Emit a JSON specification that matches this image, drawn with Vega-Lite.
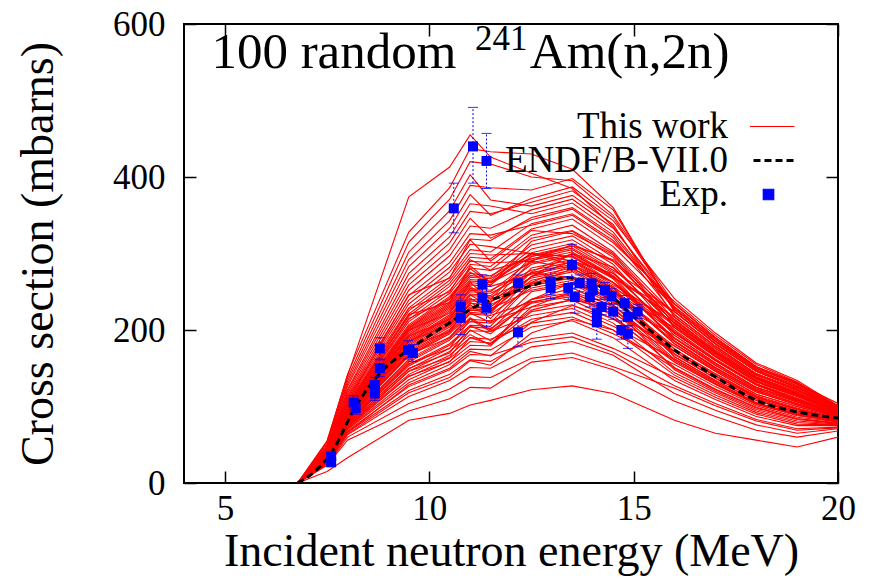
{
"$schema":"https://vega.github.io/schema/vega-lite/v6.json",
"width":654,"height":459,
"autosize":{"type":"none"},
"padding":{"left":184,"top":24,"right":32,"bottom":96},
"background":"white",
"config":{
"view":{"stroke":"black","strokeWidth":2},
"font":"Liberation Serif, serif",
"axis":{"grid":false,"domain":false,"tickColor":"black","tickWidth":1.5,"tickSize":-12,"labelColor":"black","labelFont":"Liberation Serif, serif","labelFontSize":35,"labelFlush":false,"titleFont":"Liberation Serif, serif","titleFontSize":46,"titleFontWeight":"normal","titleColor":"black"},
"legend":{"rowPadding":-8}
},
"datasets":{
"runs":[
{"c":1,"x":6.78,"y":0},{"c":1,"x":7.5,"y":15},{"c":1,"x":8,"y":33},{"c":1,"x":9.5,"y":82},{"c":1,"x":10.5,"y":91},{"c":1,"x":11,"y":102},{"c":1,"x":11.5,"y":108},{"c":1,"x":12.5,"y":122},{"c":1,"x":13.5,"y":127},{"c":1,"x":14.5,"y":117},{"c":1,"x":16,"y":82},{"c":1,"x":17,"y":65},{"c":1,"x":18,"y":56},{"c":1,"x":19,"y":47},{"c":1,"x":20,"y":60},
{"c":2,"x":6.78,"y":0},{"c":2,"x":7.5,"y":23},{"c":2,"x":8,"y":56},{"c":2,"x":9.5,"y":94},{"c":2,"x":10.5,"y":110},{"c":2,"x":11,"y":125},{"c":2,"x":11.5,"y":124},{"c":2,"x":12.5,"y":158},{"c":2,"x":13.5,"y":164},{"c":2,"x":14.5,"y":148},{"c":2,"x":16,"y":107},{"c":2,"x":17,"y":87},{"c":2,"x":18,"y":69},{"c":2,"x":19,"y":60},{"c":2,"x":20,"y":68},
{"c":3,"x":6.78,"y":0},{"c":3,"x":7.5,"y":24},{"c":3,"x":8,"y":60},{"c":3,"x":9.5,"y":104},{"c":3,"x":10.5,"y":123},{"c":3,"x":11,"y":139},{"c":3,"x":11.5,"y":138},{"c":3,"x":12.5,"y":163},{"c":3,"x":13.5,"y":170},{"c":3,"x":14.5,"y":152},{"c":3,"x":16,"y":124},{"c":3,"x":17,"y":101},{"c":3,"x":18,"y":81},{"c":3,"x":19,"y":69},{"c":3,"x":20,"y":72},
{"c":4,"x":6.78,"y":0},{"c":4,"x":7.5,"y":25},{"c":4,"x":8,"y":63},{"c":4,"x":9.5,"y":113},{"c":4,"x":10.5,"y":134},{"c":4,"x":11,"y":151},{"c":4,"x":11.5,"y":150},{"c":4,"x":12.5,"y":178},{"c":4,"x":13.5,"y":185},{"c":4,"x":14.5,"y":167},{"c":4,"x":16,"y":117},{"c":4,"x":17,"y":95},{"c":4,"x":18,"y":76},{"c":4,"x":19,"y":65},{"c":4,"x":20,"y":71},
{"c":5,"x":6.78,"y":0},{"c":5,"x":7.5,"y":26},{"c":5,"x":8,"y":66},{"c":5,"x":9.5,"y":121},{"c":5,"x":10.5,"y":142},{"c":5,"x":11,"y":161},{"c":5,"x":11.5,"y":159},{"c":5,"x":12.5,"y":189},{"c":5,"x":13.5,"y":196},{"c":5,"x":14.5,"y":176},{"c":5,"x":16,"y":138},{"c":5,"x":17,"y":112},{"c":5,"x":18,"y":90},{"c":5,"x":19,"y":77},{"c":5,"x":20,"y":76},
{"c":6,"x":6.78,"y":0},{"c":6,"x":7.5,"y":27},{"c":6,"x":8,"y":68},{"c":6,"x":9.5,"y":126},{"c":6,"x":10.5,"y":148},{"c":6,"x":11,"y":168},{"c":6,"x":11.5,"y":167},{"c":6,"x":12.5,"y":184},{"c":6,"x":13.5,"y":191},{"c":6,"x":14.5,"y":171},{"c":6,"x":16,"y":127},{"c":6,"x":17,"y":104},{"c":6,"x":18,"y":83},{"c":6,"x":19,"y":71},{"c":6,"x":20,"y":73},
{"c":7,"x":6.78,"y":0},{"c":7,"x":7.5,"y":28},{"c":7,"x":8,"y":70},{"c":7,"x":9.5,"y":131},{"c":7,"x":10.5,"y":155},{"c":7,"x":11,"y":175},{"c":7,"x":11.5,"y":174},{"c":7,"x":12.5,"y":204},{"c":7,"x":13.5,"y":212},{"c":7,"x":14.5,"y":190},{"c":7,"x":16,"y":134},{"c":7,"x":17,"y":109},{"c":7,"x":18,"y":87},{"c":7,"x":19,"y":75},{"c":7,"x":20,"y":75},
{"c":8,"x":6.78,"y":0},{"c":8,"x":7.5,"y":28},{"c":8,"x":8,"y":71},{"c":8,"x":9.5,"y":135},{"c":8,"x":10.5,"y":159},{"c":8,"x":11,"y":180},{"c":8,"x":11.5,"y":179},{"c":8,"x":12.5,"y":240},{"c":8,"x":13.5,"y":255},{"c":8,"x":14.5,"y":230},{"c":8,"x":16,"y":148},{"c":8,"x":17,"y":120},{"c":8,"x":18,"y":96},{"c":8,"x":19,"y":83},{"c":8,"x":20,"y":78},
{"c":9,"x":6.78,"y":0},{"c":9,"x":7.5,"y":29},{"c":9,"x":8,"y":73},{"c":9,"x":9.5,"y":139},{"c":9,"x":10.5,"y":163},{"c":9,"x":11,"y":185},{"c":9,"x":11.5,"y":183},{"c":9,"x":12.5,"y":214},{"c":9,"x":13.5,"y":223},{"c":9,"x":14.5,"y":200},{"c":9,"x":16,"y":141},{"c":9,"x":17,"y":115},{"c":9,"x":18,"y":92},{"c":9,"x":19,"y":79},{"c":9,"x":20,"y":76},
{"c":10,"x":6.78,"y":0},{"c":10,"x":7.5,"y":29},{"c":10,"x":8,"y":74},{"c":10,"x":9.5,"y":142},{"c":10,"x":10.5,"y":167},{"c":10,"x":11,"y":190},{"c":10,"x":11.5,"y":188},{"c":10,"x":12.5,"y":209},{"c":10,"x":13.5,"y":217},{"c":10,"x":14.5,"y":195},{"c":10,"x":16,"y":155},{"c":10,"x":17,"y":126},{"c":10,"x":18,"y":101},{"c":10,"x":19,"y":86},{"c":10,"x":20,"y":80},
{"c":11,"x":6.78,"y":0},{"c":11,"x":7.5,"y":30},{"c":11,"x":8,"y":75},{"c":11,"x":9.5,"y":146},{"c":11,"x":10.5,"y":172},{"c":11,"x":11,"y":194},{"c":11,"x":11.5,"y":180},{"c":11,"x":12.5,"y":224},{"c":11,"x":13.5,"y":233},{"c":11,"x":14.5,"y":209},{"c":11,"x":16,"y":144},{"c":11,"x":17,"y":118},{"c":11,"x":18,"y":94},{"c":11,"x":19,"y":81},{"c":11,"x":20,"y":77},
{"c":12,"x":6.78,"y":0},{"c":12,"x":7.5,"y":30},{"c":12,"x":8,"y":77},{"c":12,"x":9.5,"y":149},{"c":12,"x":10.5,"y":176},{"c":12,"x":11,"y":199},{"c":12,"x":11.5,"y":198},{"c":12,"x":12.5,"y":219},{"c":12,"x":13.5,"y":228},{"c":12,"x":14.5,"y":205},{"c":12,"x":16,"y":162},{"c":12,"x":17,"y":132},{"c":12,"x":18,"y":105},{"c":12,"x":19,"y":90},{"c":12,"x":20,"y":81},
{"c":13,"x":6.78,"y":0},{"c":13,"x":7.5,"y":31},{"c":13,"x":8,"y":78},{"c":13,"x":9.5,"y":153},{"c":13,"x":10.5,"y":180},{"c":13,"x":11,"y":204},{"c":13,"x":11.5,"y":202},{"c":13,"x":12.5,"y":235},{"c":13,"x":13.5,"y":244},{"c":13,"x":14.5,"y":219},{"c":13,"x":16,"y":151},{"c":13,"x":17,"y":123},{"c":13,"x":18,"y":99},{"c":13,"x":19,"y":84},{"c":13,"x":20,"y":79},
{"c":14,"x":6.78,"y":0},{"c":14,"x":7.5,"y":31},{"c":14,"x":8,"y":79},{"c":14,"x":9.5,"y":155},{"c":14,"x":10.5,"y":182},{"c":14,"x":11,"y":206},{"c":14,"x":11.5,"y":205},{"c":14,"x":12.5,"y":260},{"c":14,"x":13.5,"y":280},{"c":14,"x":14.5,"y":255},{"c":14,"x":16,"y":165},{"c":14,"x":17,"y":134},{"c":14,"x":18,"y":108},{"c":14,"x":19,"y":92},{"c":14,"x":20,"y":82},
{"c":15,"x":6.78,"y":0},{"c":15,"x":7.5,"y":31},{"c":15,"x":8,"y":80},{"c":15,"x":9.5,"y":158},{"c":15,"x":10.5,"y":187},{"c":15,"x":11,"y":211},{"c":15,"x":11.5,"y":209},{"c":15,"x":12.5,"y":240},{"c":15,"x":13.5,"y":249},{"c":15,"x":14.5,"y":224},{"c":15,"x":16,"y":158},{"c":15,"x":17,"y":129},{"c":15,"x":18,"y":103},{"c":15,"x":19,"y":88},{"c":15,"x":20,"y":81},
{"c":16,"x":6.78,"y":0},{"c":16,"x":7.5,"y":32},{"c":16,"x":8,"y":81},{"c":16,"x":9.5,"y":160},{"c":16,"x":10.5,"y":189},{"c":16,"x":11,"y":214},{"c":16,"x":11.5,"y":212},{"c":16,"x":12.5,"y":230},{"c":16,"x":13.5,"y":239},{"c":16,"x":14.5,"y":214},{"c":16,"x":16,"y":172},{"c":16,"x":17,"y":140},{"c":16,"x":18,"y":112},{"c":16,"x":19,"y":96},{"c":16,"x":20,"y":84},
{"c":17,"x":6.78,"y":0},{"c":17,"x":7.5,"y":32},{"c":17,"x":8,"y":81},{"c":17,"x":9.5,"y":162},{"c":17,"x":10.5,"y":191},{"c":17,"x":11,"y":216},{"c":17,"x":11.5,"y":200},{"c":17,"x":12.5,"y":250},{"c":17,"x":13.5,"y":260},{"c":17,"x":14.5,"y":233},{"c":17,"x":16,"y":162},{"c":17,"x":17,"y":132},{"c":17,"x":18,"y":105},{"c":17,"x":19,"y":90},{"c":17,"x":20,"y":81},
{"c":18,"x":6.78,"y":0},{"c":18,"x":7.5,"y":32},{"c":18,"x":8,"y":83},{"c":18,"x":9.5,"y":166},{"c":18,"x":10.5,"y":195},{"c":18,"x":11,"y":221},{"c":18,"x":11.5,"y":219},{"c":18,"x":12.5,"y":237},{"c":18,"x":13.5,"y":246},{"c":18,"x":14.5,"y":221},{"c":18,"x":16,"y":179},{"c":18,"x":17,"y":146},{"c":18,"x":18,"y":116},{"c":18,"x":19,"y":100},{"c":18,"x":20,"y":86},
{"c":19,"x":6.78,"y":0},{"c":19,"x":7.5,"y":32},{"c":19,"x":8,"y":83},{"c":19,"x":9.5,"y":167},{"c":19,"x":10.5,"y":197},{"c":19,"x":11,"y":223},{"c":19,"x":11.5,"y":221},{"c":19,"x":12.5,"y":255},{"c":19,"x":13.5,"y":265},{"c":19,"x":14.5,"y":238},{"c":19,"x":16,"y":169},{"c":19,"x":17,"y":137},{"c":19,"x":18,"y":110},{"c":19,"x":19,"y":94},{"c":19,"x":20,"y":83},
{"c":20,"x":6.78,"y":0},{"c":20,"x":7.5,"y":33},{"c":20,"x":8,"y":84},{"c":20,"x":9.5,"y":169},{"c":20,"x":10.5,"y":199},{"c":20,"x":11,"y":226},{"c":20,"x":11.5,"y":224},{"c":20,"x":12.5,"y":270},{"c":20,"x":13.5,"y":300},{"c":20,"x":14.5,"y":270},{"c":20,"x":16,"y":186},{"c":20,"x":17,"y":151},{"c":20,"x":18,"y":121},{"c":20,"x":19,"y":104},{"c":20,"x":20,"y":87},
{"c":21,"x":6.78,"y":0},{"c":21,"x":7.5,"y":33},{"c":21,"x":8,"y":85},{"c":21,"x":9.5,"y":171},{"c":21,"x":10.5,"y":201},{"c":21,"x":11,"y":228},{"c":21,"x":11.5,"y":226},{"c":21,"x":12.5,"y":265},{"c":21,"x":13.5,"y":276},{"c":21,"x":14.5,"y":248},{"c":21,"x":16,"y":175},{"c":21,"x":17,"y":143},{"c":21,"x":18,"y":114},{"c":21,"x":19,"y":98},{"c":21,"x":20,"y":85},
{"c":22,"x":6.78,"y":0},{"c":22,"x":7.5,"y":33},{"c":22,"x":8,"y":85},{"c":22,"x":9.5,"y":173},{"c":22,"x":10.5,"y":204},{"c":22,"x":11,"y":230},{"c":22,"x":11.5,"y":228},{"c":22,"x":12.5,"y":252},{"c":22,"x":13.5,"y":262},{"c":22,"x":14.5,"y":236},{"c":22,"x":16,"y":193},{"c":22,"x":17,"y":157},{"c":22,"x":18,"y":125},{"c":22,"x":19,"y":108},{"c":22,"x":20,"y":89},
{"c":23,"x":6.78,"y":0},{"c":23,"x":7.5,"y":33},{"c":23,"x":8,"y":86},{"c":23,"x":9.5,"y":175},{"c":23,"x":10.5,"y":206},{"c":23,"x":11,"y":233},{"c":23,"x":11.5,"y":215},{"c":23,"x":12.5,"y":270},{"c":23,"x":13.5,"y":281},{"c":23,"x":14.5,"y":252},{"c":23,"x":16,"y":182},{"c":23,"x":17,"y":148},{"c":23,"x":18,"y":119},{"c":23,"x":19,"y":102},{"c":23,"x":20,"y":87},
{"c":24,"x":6.78,"y":0},{"c":24,"x":7.5,"y":33},{"c":24,"x":8,"y":87},{"c":24,"x":9.5,"y":176},{"c":24,"x":10.5,"y":208},{"c":24,"x":11,"y":235},{"c":24,"x":11.5,"y":233},{"c":24,"x":12.5,"y":260},{"c":24,"x":13.5,"y":270},{"c":24,"x":14.5,"y":243},{"c":24,"x":16,"y":165},{"c":24,"x":17,"y":134},{"c":24,"x":18,"y":108},{"c":24,"x":19,"y":92},{"c":24,"x":20,"y":82},
{"c":25,"x":6.78,"y":0},{"c":25,"x":7.5,"y":34},{"c":25,"x":8,"y":87},{"c":25,"x":9.5,"y":178},{"c":25,"x":10.5,"y":210},{"c":25,"x":11,"y":238},{"c":25,"x":11.5,"y":236},{"c":25,"x":12.5,"y":275},{"c":25,"x":13.5,"y":286},{"c":25,"x":14.5,"y":257},{"c":25,"x":16,"y":196},{"c":25,"x":17,"y":160},{"c":25,"x":18,"y":128},{"c":25,"x":19,"y":109},{"c":25,"x":20,"y":90},
{"c":26,"x":6.78,"y":0},{"c":26,"x":7.5,"y":34},{"c":26,"x":8,"y":88},{"c":26,"x":9.5,"y":180},{"c":26,"x":10.5,"y":212},{"c":26,"x":11,"y":240},{"c":26,"x":11.5,"y":238},{"c":26,"x":12.5,"y":258},{"c":26,"x":13.5,"y":268},{"c":26,"x":14.5,"y":240},{"c":26,"x":16,"y":179},{"c":26,"x":17,"y":146},{"c":26,"x":18,"y":116},{"c":26,"x":19,"y":100},{"c":26,"x":20,"y":86},
{"c":27,"x":6.78,"y":0},{"c":27,"x":7.5,"y":34},{"c":27,"x":8,"y":89},{"c":27,"x":9.5,"y":182},{"c":27,"x":10.5,"y":214},{"c":27,"x":11,"y":242},{"c":27,"x":11.5,"y":225},{"c":27,"x":12.5,"y":281},{"c":27,"x":13.5,"y":292},{"c":27,"x":14.5,"y":262},{"c":27,"x":16,"y":189},{"c":27,"x":17,"y":154},{"c":27,"x":18,"y":123},{"c":27,"x":19,"y":106},{"c":27,"x":20,"y":88},
{"c":28,"x":6.78,"y":0},{"c":28,"x":7.5,"y":35},{"c":28,"x":8,"y":89},{"c":28,"x":9.5,"y":184},{"c":28,"x":10.5,"y":216},{"c":28,"x":11,"y":245},{"c":28,"x":11.5,"y":243},{"c":28,"x":12.5,"y":268},{"c":28,"x":13.5,"y":278},{"c":28,"x":14.5,"y":250},{"c":28,"x":16,"y":203},{"c":28,"x":17,"y":165},{"c":28,"x":18,"y":132},{"c":28,"x":19,"y":113},{"c":28,"x":20,"y":92},
{"c":29,"x":6.78,"y":0},{"c":29,"x":7.5,"y":35},{"c":29,"x":8,"y":90},{"c":29,"x":9.5,"y":185},{"c":29,"x":10.5,"y":218},{"c":29,"x":11,"y":247},{"c":29,"x":11.5,"y":245},{"c":29,"x":12.5,"y":286},{"c":29,"x":13.5,"y":297},{"c":29,"x":14.5,"y":267},{"c":29,"x":16,"y":186},{"c":29,"x":17,"y":151},{"c":29,"x":18,"y":121},{"c":29,"x":19,"y":104},{"c":29,"x":20,"y":87},
{"c":30,"x":6.78,"y":0},{"c":30,"x":7.5,"y":35},{"c":30,"x":8,"y":91},{"c":30,"x":9.5,"y":187},{"c":30,"x":10.5,"y":220},{"c":30,"x":11,"y":250},{"c":30,"x":11.5,"y":248},{"c":30,"x":12.5,"y":275},{"c":30,"x":13.5,"y":268},{"c":30,"x":14.5,"y":238},{"c":30,"x":16,"y":172},{"c":30,"x":17,"y":140},{"c":30,"x":18,"y":112},{"c":30,"x":19,"y":96},{"c":30,"x":20,"y":84},
{"c":31,"x":6.78,"y":0},{"c":31,"x":7.5,"y":35},{"c":31,"x":8,"y":91},{"c":31,"x":9.5,"y":189},{"c":31,"x":10.5,"y":223},{"c":31,"x":11,"y":252},{"c":31,"x":11.5,"y":250},{"c":31,"x":12.5,"y":291},{"c":31,"x":13.5,"y":302},{"c":31,"x":14.5,"y":271},{"c":31,"x":16,"y":200},{"c":31,"x":17,"y":162},{"c":31,"x":18,"y":130},{"c":31,"x":19,"y":111},{"c":31,"x":20,"y":91},
{"c":32,"x":6.78,"y":0},{"c":32,"x":7.5,"y":35},{"c":32,"x":8,"y":92},{"c":32,"x":9.5,"y":191},{"c":32,"x":10.5,"y":225},{"c":32,"x":11,"y":254},{"c":32,"x":11.5,"y":252},{"c":32,"x":12.5,"y":278},{"c":32,"x":13.5,"y":289},{"c":32,"x":14.5,"y":259},{"c":32,"x":16,"y":210},{"c":32,"x":17,"y":171},{"c":32,"x":18,"y":137},{"c":32,"x":19,"y":117},{"c":32,"x":20,"y":93},
{"c":33,"x":6.78,"y":0},{"c":33,"x":7.5,"y":36},{"c":33,"x":8,"y":93},{"c":33,"x":9.5,"y":193},{"c":33,"x":10.5,"y":227},{"c":33,"x":11,"y":257},{"c":33,"x":11.5,"y":240},{"c":33,"x":12.5,"y":296},{"c":33,"x":13.5,"y":307},{"c":33,"x":14.5,"y":276},{"c":33,"x":16,"y":193},{"c":33,"x":17,"y":157},{"c":33,"x":18,"y":125},{"c":33,"x":19,"y":108},{"c":33,"x":20,"y":89},
{"c":34,"x":6.78,"y":0},{"c":34,"x":7.5,"y":36},{"c":34,"x":8,"y":93},{"c":34,"x":9.5,"y":194},{"c":34,"x":10.5,"y":229},{"c":34,"x":11,"y":259},{"c":34,"x":11.5,"y":257},{"c":34,"x":12.5,"y":273},{"c":34,"x":13.5,"y":284},{"c":34,"x":14.5,"y":255},{"c":34,"x":16,"y":182},{"c":34,"x":17,"y":148},{"c":34,"x":18,"y":119},{"c":34,"x":19,"y":102},{"c":34,"x":20,"y":87},
{"c":35,"x":6.78,"y":0},{"c":35,"x":7.5,"y":36},{"c":35,"x":8,"y":94},{"c":35,"x":9.5,"y":196},{"c":35,"x":10.5,"y":231},{"c":35,"x":11,"y":262},{"c":35,"x":11.5,"y":259},{"c":35,"x":12.5,"y":301},{"c":35,"x":13.5,"y":313},{"c":35,"x":14.5,"y":281},{"c":35,"x":16,"y":206},{"c":35,"x":17,"y":168},{"c":35,"x":18,"y":134},{"c":35,"x":19,"y":115},{"c":35,"x":20,"y":92},
{"c":36,"x":6.78,"y":0},{"c":36,"x":7.5,"y":36},{"c":36,"x":8,"y":95},{"c":36,"x":9.5,"y":198},{"c":36,"x":10.5,"y":233},{"c":36,"x":11,"y":264},{"c":36,"x":11.5,"y":262},{"c":36,"x":12.5,"y":288},{"c":36,"x":13.5,"y":299},{"c":36,"x":14.5,"y":269},{"c":36,"x":16,"y":217},{"c":36,"x":17,"y":176},{"c":36,"x":18,"y":141},{"c":36,"x":19,"y":121},{"c":36,"x":20,"y":95},
{"c":37,"x":6.78,"y":0},{"c":37,"x":7.5,"y":37},{"c":37,"x":8,"y":95},{"c":37,"x":9.5,"y":200},{"c":37,"x":10.5,"y":235},{"c":37,"x":11,"y":266},{"c":37,"x":11.5,"y":264},{"c":37,"x":12.5,"y":306},{"c":37,"x":13.5,"y":318},{"c":37,"x":14.5,"y":286},{"c":37,"x":16,"y":196},{"c":37,"x":17,"y":160},{"c":37,"x":18,"y":128},{"c":37,"x":19,"y":109},{"c":37,"x":20,"y":90},
{"c":38,"x":6.78,"y":0},{"c":38,"x":7.5,"y":37},{"c":38,"x":8,"y":96},{"c":38,"x":9.5,"y":202},{"c":38,"x":10.5,"y":237},{"c":38,"x":11,"y":269},{"c":38,"x":11.5,"y":267},{"c":38,"x":12.5,"y":300},{"c":38,"x":13.5,"y":285},{"c":38,"x":14.5,"y":250},{"c":38,"x":16,"y":189},{"c":38,"x":17,"y":154},{"c":38,"x":18,"y":123},{"c":38,"x":19,"y":106},{"c":38,"x":20,"y":88},
{"c":39,"x":6.78,"y":0},{"c":39,"x":7.5,"y":37},{"c":39,"x":8,"y":97},{"c":39,"x":9.5,"y":203},{"c":39,"x":10.5,"y":240},{"c":39,"x":11,"y":271},{"c":39,"x":11.5,"y":269},{"c":39,"x":12.5,"y":311},{"c":39,"x":13.5,"y":323},{"c":39,"x":14.5,"y":290},{"c":39,"x":16,"y":213},{"c":39,"x":17,"y":174},{"c":39,"x":18,"y":139},{"c":39,"x":19,"y":119},{"c":39,"x":20,"y":94},
{"c":40,"x":6.78,"y":0},{"c":40,"x":7.5,"y":37},{"c":40,"x":8,"y":97},{"c":40,"x":9.5,"y":205},{"c":40,"x":10.5,"y":242},{"c":40,"x":11,"y":274},{"c":40,"x":11.5,"y":271},{"c":40,"x":12.5,"y":298},{"c":40,"x":13.5,"y":310},{"c":40,"x":14.5,"y":278},{"c":40,"x":16,"y":224},{"c":40,"x":17,"y":182},{"c":40,"x":18,"y":146},{"c":40,"x":19,"y":125},{"c":40,"x":20,"y":97},
{"c":41,"x":6.78,"y":0},{"c":41,"x":7.5,"y":38},{"c":41,"x":8,"y":98},{"c":41,"x":9.5,"y":207},{"c":41,"x":10.5,"y":244},{"c":41,"x":11,"y":276},{"c":41,"x":11.5,"y":258},{"c":41,"x":12.5,"y":316},{"c":41,"x":13.5,"y":329},{"c":41,"x":14.5,"y":295},{"c":41,"x":16,"y":203},{"c":41,"x":17,"y":165},{"c":41,"x":18,"y":132},{"c":41,"x":19,"y":113},{"c":41,"x":20,"y":92},
{"c":42,"x":6.78,"y":0},{"c":42,"x":7.5,"y":38},{"c":42,"x":8,"y":99},{"c":42,"x":9.5,"y":211},{"c":42,"x":10.5,"y":248},{"c":42,"x":11,"y":281},{"c":42,"x":11.5,"y":278},{"c":42,"x":12.5,"y":293},{"c":42,"x":13.5,"y":305},{"c":42,"x":14.5,"y":274},{"c":42,"x":16,"y":196},{"c":42,"x":17,"y":160},{"c":42,"x":18,"y":128},{"c":42,"x":19,"y":109},{"c":42,"x":20,"y":90},
{"c":43,"x":6.78,"y":0},{"c":43,"x":7.5,"y":39},{"c":43,"x":8,"y":101},{"c":43,"x":9.5,"y":214},{"c":43,"x":10.5,"y":252},{"c":43,"x":11,"y":286},{"c":43,"x":11.5,"y":283},{"c":43,"x":12.5,"y":324},{"c":43,"x":13.5,"y":337},{"c":43,"x":14.5,"y":302},{"c":43,"x":16,"y":220},{"c":43,"x":17,"y":179},{"c":43,"x":18,"y":143},{"c":43,"x":19,"y":123},{"c":43,"x":20,"y":96},
{"c":44,"x":6.78,"y":0},{"c":44,"x":7.5,"y":39},{"c":44,"x":8,"y":102},{"c":44,"x":9.5,"y":218},{"c":44,"x":10.5,"y":257},{"c":44,"x":11,"y":290},{"c":44,"x":11.5,"y":288},{"c":44,"x":12.5,"y":290},{"c":44,"x":13.5,"y":280},{"c":44,"x":14.5,"y":255},{"c":44,"x":16,"y":210},{"c":44,"x":17,"y":171},{"c":44,"x":18,"y":137},{"c":44,"x":19,"y":117},{"c":44,"x":20,"y":93},
{"c":45,"x":6.78,"y":0},{"c":45,"x":7.5,"y":40},{"c":45,"x":8,"y":103},{"c":45,"x":9.5,"y":221},{"c":45,"x":10.5,"y":261},{"c":45,"x":11,"y":295},{"c":45,"x":11.5,"y":293},{"c":45,"x":12.5,"y":332},{"c":45,"x":13.5,"y":345},{"c":45,"x":14.5,"y":309},{"c":45,"x":16,"y":230},{"c":45,"x":17,"y":188},{"c":45,"x":18,"y":150},{"c":45,"x":19,"y":129},{"c":45,"x":20,"y":98},
{"c":46,"x":6.78,"y":0},{"c":46,"x":7.5,"y":40},{"c":46,"x":8,"y":104},{"c":46,"x":9.5,"y":225},{"c":46,"x":10.5,"y":265},{"c":46,"x":11,"y":300},{"c":46,"x":11.5,"y":298},{"c":46,"x":12.5,"y":300},{"c":46,"x":13.5,"y":290},{"c":46,"x":14.5,"y":262},{"c":46,"x":16,"y":206},{"c":46,"x":17,"y":168},{"c":46,"x":18,"y":134},{"c":46,"x":19,"y":115},{"c":46,"x":20,"y":92},
{"c":47,"x":6.78,"y":0},{"c":47,"x":7.5,"y":40},{"c":47,"x":8,"y":106},{"c":47,"x":9.5,"y":229},{"c":47,"x":10.5,"y":269},{"c":47,"x":11,"y":305},{"c":47,"x":11.5,"y":302},{"c":47,"x":12.5,"y":339},{"c":47,"x":13.5,"y":352},{"c":47,"x":14.5,"y":317},{"c":47,"x":16,"y":234},{"c":47,"x":17,"y":190},{"c":47,"x":18,"y":152},{"c":47,"x":19,"y":131},{"c":47,"x":20,"y":99},
{"c":48,"x":6.78,"y":0},{"c":48,"x":7.5,"y":41},{"c":48,"x":8,"y":108},{"c":48,"x":9.5,"y":234},{"c":48,"x":10.5,"y":276},{"c":48,"x":11,"y":312},{"c":48,"x":11.5,"y":309},{"c":48,"x":12.5,"y":300},{"c":48,"x":13.5,"y":295},{"c":48,"x":14.5,"y":268},{"c":48,"x":16,"y":224},{"c":48,"x":17,"y":182},{"c":48,"x":18,"y":146},{"c":48,"x":19,"y":125},{"c":48,"x":20,"y":97},
{"c":49,"x":6.78,"y":0},{"c":49,"x":7.5,"y":42},{"c":49,"x":8,"y":110},{"c":49,"x":9.5,"y":239},{"c":49,"x":10.5,"y":282},{"c":49,"x":11,"y":319},{"c":49,"x":11.5,"y":317},{"c":49,"x":12.5,"y":347},{"c":49,"x":13.5,"y":360},{"c":49,"x":14.5,"y":324},{"c":49,"x":16,"y":227},{"c":49,"x":17,"y":185},{"c":49,"x":18,"y":148},{"c":49,"x":19,"y":127},{"c":49,"x":20,"y":97},
{"c":50,"x":6.78,"y":0},{"c":50,"x":7.5,"y":43},{"c":50,"x":8,"y":112},{"c":50,"x":9.5,"y":245},{"c":50,"x":10.5,"y":288},{"c":50,"x":11,"y":326},{"c":50,"x":11.5,"y":324},{"c":50,"x":12.5,"y":337},{"c":50,"x":13.5,"y":350},{"c":50,"x":14.5,"y":314},{"c":50,"x":16,"y":237},{"c":50,"x":17,"y":193},{"c":50,"x":18,"y":155},{"c":50,"x":19,"y":132},{"c":50,"x":20,"y":100},
{"c":51,"x":6.78,"y":0},{"c":51,"x":7.5,"y":44},{"c":51,"x":8,"y":114},{"c":51,"x":9.5,"y":252},{"c":51,"x":10.5,"y":297},{"c":51,"x":11,"y":336},{"c":51,"x":11.5,"y":333},{"c":51,"x":12.5,"y":357},{"c":51,"x":13.5,"y":371},{"c":51,"x":14.5,"y":333},{"c":51,"x":16,"y":234},{"c":51,"x":17,"y":190},{"c":51,"x":18,"y":152},{"c":51,"x":19,"y":131},{"c":51,"x":20,"y":99},
{"c":52,"x":6.78,"y":0},{"c":52,"x":7.5,"y":44},{"c":52,"x":8,"y":117},{"c":52,"x":9.5,"y":259},{"c":52,"x":10.5,"y":305},{"c":52,"x":11,"y":346},{"c":52,"x":11.5,"y":320},{"c":52,"x":12.5,"y":344},{"c":52,"x":13.5,"y":358},{"c":52,"x":14.5,"y":321},{"c":52,"x":16,"y":220},{"c":52,"x":17,"y":179},{"c":52,"x":18,"y":143},{"c":52,"x":19,"y":123},{"c":52,"x":20,"y":96},
{"c":53,"x":6.78,"y":0},{"c":53,"x":7.5,"y":45},{"c":53,"x":8,"y":120},{"c":53,"x":9.5,"y":266},{"c":53,"x":10.5,"y":314},{"c":53,"x":11,"y":355},{"c":53,"x":11.5,"y":352},{"c":53,"x":12.5,"y":367},{"c":53,"x":13.5,"y":382},{"c":53,"x":14.5,"y":343},{"c":53,"x":16,"y":241},{"c":53,"x":17,"y":196},{"c":53,"x":18,"y":157},{"c":53,"x":19,"y":134},{"c":53,"x":20,"y":101},
{"c":54,"x":6.78,"y":0},{"c":54,"x":7.5,"y":46},{"c":54,"x":8,"y":122},{"c":54,"x":9.5,"y":274},{"c":54,"x":10.5,"y":322},{"c":54,"x":11,"y":365},{"c":54,"x":11.5,"y":362},{"c":54,"x":12.5,"y":352},{"c":54,"x":13.5,"y":366},{"c":54,"x":14.5,"y":328},{"c":54,"x":16,"y":227},{"c":54,"x":17,"y":185},{"c":54,"x":18,"y":148},{"c":54,"x":19,"y":127},{"c":54,"x":20,"y":97},
{"c":55,"x":6.78,"y":0},{"c":55,"x":7.5,"y":48},{"c":55,"x":8,"y":126},{"c":55,"x":9.5,"y":283},{"c":55,"x":10.5,"y":333},{"c":55,"x":11,"y":377},{"c":55,"x":11.5,"y":350},{"c":55,"x":12.5,"y":372},{"c":55,"x":13.5,"y":387},{"c":55,"x":14.5,"y":347},{"c":55,"x":16,"y":230},{"c":55,"x":17,"y":188},{"c":55,"x":18,"y":150},{"c":55,"x":19,"y":129},{"c":55,"x":20,"y":98},
{"c":56,"x":6.78,"y":0},{"c":56,"x":7.5,"y":49},{"c":56,"x":8,"y":129},{"c":56,"x":9.5,"y":292},{"c":56,"x":10.5,"y":343},{"c":56,"x":11,"y":389},{"c":56,"x":11.5,"y":386},{"c":56,"x":12.5,"y":383},{"c":56,"x":13.5,"y":398},{"c":56,"x":14.5,"y":357},{"c":56,"x":16,"y":224},{"c":56,"x":17,"y":182},{"c":56,"x":18,"y":146},{"c":56,"x":19,"y":125},{"c":56,"x":20,"y":97},
{"c":57,"x":6.78,"y":0},{"c":57,"x":7.5,"y":50},{"c":57,"x":8,"y":133},{"c":57,"x":9.5,"y":302},{"c":57,"x":10.5,"y":356},{"c":57,"x":11,"y":403},{"c":57,"x":11.5,"y":370},{"c":57,"x":12.5,"y":362},{"c":57,"x":13.5,"y":376},{"c":57,"x":14.5,"y":338},{"c":57,"x":16,"y":217},{"c":57,"x":17,"y":176},{"c":57,"x":18,"y":141},{"c":57,"x":19,"y":121},{"c":57,"x":20,"y":95},
{"c":58,"x":6.78,"y":0},{"c":58,"x":7.5,"y":52},{"c":58,"x":8,"y":137},{"c":58,"x":9.5,"y":315},{"c":58,"x":10.5,"y":371},{"c":58,"x":11,"y":420},{"c":58,"x":11.5,"y":417},{"c":58,"x":12.5,"y":400},{"c":58,"x":13.5,"y":395},{"c":58,"x":14.5,"y":350},{"c":58,"x":16,"y":234},{"c":58,"x":17,"y":190},{"c":58,"x":18,"y":152},{"c":58,"x":19,"y":131},{"c":58,"x":20,"y":99},
{"c":59,"x":6.78,"y":0},{"c":59,"x":7.5,"y":54},{"c":59,"x":8,"y":142},{"c":59,"x":9.5,"y":328},{"c":59,"x":10.5,"y":386},{"c":59,"x":11,"y":437},{"c":59,"x":11.5,"y":433},{"c":59,"x":12.5,"y":430},{"c":59,"x":13.5,"y":410},{"c":59,"x":14.5,"y":360},{"c":59,"x":16,"y":224},{"c":59,"x":17,"y":182},{"c":59,"x":18,"y":146},{"c":59,"x":19,"y":125},{"c":59,"x":20,"y":97},
{"c":60,"x":6.78,"y":0},{"c":60,"x":7.5,"y":55},{"c":60,"x":8,"y":140},{"c":60,"x":9.5,"y":374},{"c":60,"x":10.5,"y":413},{"c":60,"x":11,"y":455},{"c":60,"x":11.5,"y":426},{"c":60,"x":12.5,"y":405},{"c":60,"x":13.5,"y":385},{"c":60,"x":14.5,"y":335},{"c":60,"x":16,"y":228},{"c":60,"x":17,"y":186},{"c":60,"x":18,"y":150},{"c":60,"x":19,"y":130},{"c":60,"x":20,"y":104},
{"c":61,"x":6.78,"y":0},{"c":61,"x":7.5,"y":30},{"c":61,"x":8,"y":76},{"c":61,"x":9.5,"y":150},{"c":61,"x":10.5,"y":170},{"c":61,"x":11,"y":205},{"c":61,"x":11.5,"y":195},{"c":61,"x":12.5,"y":240},{"c":61,"x":13.5,"y":262},{"c":61,"x":14.5,"y":240},{"c":61,"x":16,"y":175},{"c":61,"x":17,"y":142},{"c":61,"x":18,"y":113},{"c":61,"x":19,"y":97},{"c":61,"x":20,"y":84},
{"c":62,"x":6.78,"y":0},{"c":62,"x":7.5,"y":34},{"c":62,"x":8,"y":90},{"c":62,"x":9.5,"y":200},{"c":62,"x":10.5,"y":222},{"c":62,"x":11,"y":262},{"c":62,"x":11.5,"y":240},{"c":62,"x":12.5,"y":262},{"c":62,"x":13.5,"y":270},{"c":62,"x":14.5,"y":250},{"c":62,"x":16,"y":185},{"c":62,"x":17,"y":150},{"c":62,"x":18,"y":121},{"c":62,"x":19,"y":103},{"c":62,"x":20,"y":88},
{"c":63,"x":6.78,"y":0},{"c":63,"x":7.5,"y":28},{"c":63,"x":8,"y":72},{"c":63,"x":9.5,"y":140},{"c":63,"x":10.5,"y":158},{"c":63,"x":11,"y":190},{"c":63,"x":11.5,"y":182},{"c":63,"x":12.5,"y":230},{"c":63,"x":13.5,"y":250},{"c":63,"x":14.5,"y":232},{"c":63,"x":16,"y":168},{"c":63,"x":17,"y":137},{"c":63,"x":18,"y":110},{"c":63,"x":19,"y":94},{"c":63,"x":20,"y":82},
{"c":64,"x":6.78,"y":0},{"c":64,"x":7.5,"y":36},{"c":64,"x":8,"y":96},{"c":64,"x":9.5,"y":215},{"c":64,"x":10.5,"y":240},{"c":64,"x":11,"y":280},{"c":64,"x":11.5,"y":262},{"c":64,"x":12.5,"y":300},{"c":64,"x":13.5,"y":296},{"c":64,"x":14.5,"y":262},{"c":64,"x":16,"y":190},{"c":64,"x":17,"y":156},{"c":64,"x":18,"y":125},{"c":64,"x":19,"y":107},{"c":64,"x":20,"y":89},
{"c":65,"x":6.78,"y":0},{"c":65,"x":7.5,"y":32},{"c":65,"x":8,"y":82},{"c":65,"x":9.5,"y":168},{"c":65,"x":10.5,"y":190},{"c":65,"x":11,"y":222},{"c":65,"x":11.5,"y":210},{"c":65,"x":12.5,"y":262},{"c":65,"x":13.5,"y":285},{"c":65,"x":14.5,"y":262},{"c":65,"x":16,"y":198},{"c":65,"x":17,"y":161},{"c":65,"x":18,"y":129},{"c":65,"x":19,"y":110},{"c":65,"x":20,"y":91},
{"c":66,"x":6.78,"y":0},{"c":66,"x":7.5,"y":38},{"c":66,"x":8,"y":100},{"c":66,"x":9.5,"y":228},{"c":66,"x":10.5,"y":250},{"c":66,"x":11,"y":292},{"c":66,"x":11.5,"y":278},{"c":66,"x":12.5,"y":320},{"c":66,"x":13.5,"y":330},{"c":66,"x":14.5,"y":300},{"c":66,"x":16,"y":214},{"c":66,"x":17,"y":173},{"c":66,"x":18,"y":139},{"c":66,"x":19,"y":119},{"c":66,"x":20,"y":94},
{"c":67,"x":6.78,"y":0},{"c":67,"x":7.5,"y":27},{"c":67,"x":8,"y":66},{"c":67,"x":9.5,"y":128},{"c":67,"x":10.5,"y":150},{"c":67,"x":11,"y":172},{"c":67,"x":11.5,"y":166},{"c":67,"x":12.5,"y":210},{"c":67,"x":13.5,"y":232},{"c":67,"x":14.5,"y":215},{"c":67,"x":16,"y":158},{"c":67,"x":17,"y":129},{"c":67,"x":18,"y":103},{"c":67,"x":19,"y":89},{"c":67,"x":20,"y":80},
{"c":68,"x":6.78,"y":0},{"c":68,"x":7.5,"y":35},{"c":68,"x":8,"y":92},{"c":68,"x":9.5,"y":192},{"c":68,"x":10.5,"y":214},{"c":68,"x":11,"y":255},{"c":68,"x":11.5,"y":236},{"c":68,"x":12.5,"y":290},{"c":68,"x":13.5,"y":312},{"c":68,"x":14.5,"y":290},{"c":68,"x":16,"y":209},{"c":68,"x":17,"y":170},{"c":68,"x":18,"y":136},{"c":68,"x":19,"y":116},{"c":68,"x":20,"y":93},
{"c":69,"x":6.78,"y":0},{"c":69,"x":7.5,"y":31},{"c":69,"x":8,"y":78},{"c":69,"x":9.5,"y":156},{"c":69,"x":10.5,"y":176},{"c":69,"x":11,"y":214},{"c":69,"x":11.5,"y":198},{"c":69,"x":12.5,"y":236},{"c":69,"x":13.5,"y":248},{"c":69,"x":14.5,"y":228},{"c":69,"x":16,"y":160},{"c":69,"x":17,"y":130},{"c":69,"x":18,"y":104},{"c":69,"x":19,"y":90},{"c":69,"x":20,"y":80},
{"c":70,"x":6.78,"y":0},{"c":70,"x":7.5,"y":40},{"c":70,"x":8,"y":106},{"c":70,"x":9.5,"y":246},{"c":70,"x":10.5,"y":268},{"c":70,"x":11,"y":318},{"c":70,"x":11.5,"y":290},{"c":70,"x":12.5,"y":330},{"c":70,"x":13.5,"y":326},{"c":70,"x":14.5,"y":298},{"c":70,"x":16,"y":208},{"c":70,"x":17,"y":170},{"c":70,"x":18,"y":136},{"c":70,"x":19,"y":116},{"c":70,"x":20,"y":93},
{"c":71,"x":6.78,"y":0},{"c":71,"x":7.5,"y":33},{"c":71,"x":8,"y":86},{"c":71,"x":9.5,"y":178},{"c":71,"x":10.5,"y":198},{"c":71,"x":11,"y":236},{"c":71,"x":11.5,"y":222},{"c":71,"x":12.5,"y":276},{"c":71,"x":13.5,"y":300},{"c":71,"x":14.5,"y":282},{"c":71,"x":16,"y":205},{"c":71,"x":17,"y":166},{"c":71,"x":18,"y":133},{"c":71,"x":19,"y":114},{"c":71,"x":20,"y":92},
{"c":72,"x":6.78,"y":0},{"c":72,"x":7.5,"y":29},{"c":72,"x":8,"y":74},{"c":72,"x":9.5,"y":146},{"c":72,"x":10.5,"y":164},{"c":72,"x":11,"y":200},{"c":72,"x":11.5,"y":186},{"c":72,"x":12.5,"y":226},{"c":72,"x":13.5,"y":240},{"c":72,"x":14.5,"y":226},{"c":72,"x":16,"y":172},{"c":72,"x":17,"y":140},{"c":72,"x":18,"y":112},{"c":72,"x":19,"y":96},{"c":72,"x":20,"y":84},
{"c":73,"x":6.78,"y":0},{"c":73,"x":7.5,"y":37},{"c":73,"x":8,"y":98},{"c":73,"x":9.5,"y":220},{"c":73,"x":10.5,"y":236},{"c":73,"x":11,"y":284},{"c":73,"x":11.5,"y":262},{"c":73,"x":12.5,"y":296},{"c":73,"x":13.5,"y":310},{"c":73,"x":14.5,"y":292},{"c":73,"x":16,"y":220},{"c":73,"x":17,"y":178},{"c":73,"x":18,"y":142},{"c":73,"x":19,"y":122},{"c":73,"x":20,"y":95},
{"c":74,"x":6.78,"y":0},{"c":74,"x":7.5,"y":26},{"c":74,"x":8,"y":64},{"c":74,"x":9.5,"y":118},{"c":74,"x":10.5,"y":138},{"c":74,"x":11,"y":160},{"c":74,"x":11.5,"y":154},{"c":74,"x":12.5,"y":196},{"c":74,"x":13.5,"y":214},{"c":74,"x":14.5,"y":200},{"c":74,"x":16,"y":150},{"c":74,"x":17,"y":122},{"c":74,"x":18,"y":98},{"c":74,"x":19,"y":84},{"c":74,"x":20,"y":78},
{"c":75,"x":6.78,"y":0},{"c":75,"x":7.5,"y":34},{"c":75,"x":8,"y":88},{"c":75,"x":9.5,"y":186},{"c":75,"x":10.5,"y":206},{"c":75,"x":11,"y":246},{"c":75,"x":11.5,"y":230},{"c":75,"x":12.5,"y":270},{"c":75,"x":13.5,"y":290},{"c":75,"x":14.5,"y":274},{"c":75,"x":16,"y":212},{"c":75,"x":17,"y":172},{"c":75,"x":18,"y":138},{"c":75,"x":19,"y":118},{"c":75,"x":20,"y":94}
],
"endf":[
{"x":6.78,"y":0},{"x":7.2,"y":15},{"x":7.6,"y":39},{"x":8.2,"y":100},{"x":8.8,"y":144},{"x":9.6,"y":178},{"x":10.6,"y":213},{"x":11.1,"y":230},{"x":12,"y":248},{"x":12.5,"y":258},{"x":13.4,"y":268},{"x":14,"y":262},{"x":15,"y":218},{"x":16,"y":174},{"x":17,"y":139},{"x":18,"y":108},{"x":19,"y":93},{"x":20,"y":85}
],
"exp":[
{"x":7.6,"y":35,"lo":30,"hi":40},{"x":7.6,"y":27,"lo":23,"hi":31},
{"x":8.15,"y":105,"lo":96,"hi":114},{"x":8.2,"y":98,"lo":90,"hi":106},
{"x":8.67,"y":128,"lo":118,"hi":138},{"x":8.67,"y":117,"lo":108,"hi":126},
{"x":8.79,"y":176,"lo":162,"hi":190},{"x":8.79,"y":150,"lo":139,"hi":161},
{"x":9.48,"y":174,"lo":162,"hi":186},{"x":9.6,"y":170,"lo":159,"hi":181},
{"x":10.6,"y":359,"lo":327,"hi":392},
{"x":10.77,"y":230,"lo":214,"hi":246},{"x":10.77,"y":216,"lo":194,"hi":238},
{"x":11.07,"y":440,"lo":392,"hi":491},{"x":11.4,"y":421,"lo":385,"hi":457},
{"x":11.3,"y":260,"lo":248,"hi":272},{"x":11.3,"y":242,"lo":230,"hi":254},{"x":11.4,"y":229,"lo":204,"hi":257},
{"x":12.17,"y":261,"lo":250,"hi":272},{"x":12.17,"y":197,"lo":178,"hi":216},
{"x":12.97,"y":263,"lo":246,"hi":281},{"x":12.97,"y":255,"lo":241,"hi":269},
{"x":13.49,"y":285,"lo":260,"hi":312},{"x":13.4,"y":255,"lo":240,"hi":270},{"x":13.56,"y":243,"lo":222,"hi":262},
{"x":13.68,"y":261,"lo":250,"hi":272},{"x":13.97,"y":261,"lo":248,"hi":274},{"x":14.0,"y":252,"lo":240,"hi":264},{"x":13.93,"y":243,"lo":230,"hi":256},
{"x":14.3,"y":252,"lo":242,"hi":262},{"x":14.46,"y":244,"lo":234,"hi":254},{"x":14.22,"y":230,"lo":220,"hi":240},
{"x":14.1,"y":222,"lo":210,"hi":234},{"x":14.1,"y":210,"lo":188,"hi":226},
{"x":14.5,"y":224,"lo":214,"hi":234},{"x":14.78,"y":235,"lo":225,"hi":245},{"x":14.86,"y":217,"lo":205,"hi":229},
{"x":15.1,"y":224,"lo":215,"hi":233},{"x":14.7,"y":200,"lo":188,"hi":212},{"x":14.86,"y":195,"lo":176,"hi":206}
]
},
"resolve":{"axis":{"x":"independent","y":"independent"}},
"layer":[
{"data":{"name":"runs"},"mark":{"type":"line","strokeWidth":1.1,"clip":true},
"encoding":{
"x":{"field":"x","type":"quantitative","scale":{"domain":[4,20],"nice":false,"zero":false},"axis":{"orient":"bottom","values":[5,10,15,20],"title":"Incident neutron energy (MeV)","labelPadding":20,"titlePadding":3}},
"y":{"field":"y","type":"quantitative","scale":{"domain":[0,600],"nice":false},"axis":{"orient":"left","values":[0,200,400,600],"title":"Cross section (mbarns)","labelPadding":31,"titlePadding":50}},
"detail":{"field":"c","type":"nominal"},
"color":{"datum":"This work","scale":{"domain":["This work","ENDF/B-VII.0","Exp."],"range":["#ff0000","#000000","#0000ff"]},
"legend":{"orient":"none","legendX":566,"legendY":87,"title":null,"padding":0,"labelAlign":"right","labelOffset":-59,"labelFont":"Liberation Serif, serif","labelFontSize":37,"labelColor":"black","labelLimit":400,"symbolSize":2704,"symbolType":"stroke","clipHeight":31,"rowPadding":-8,
"encode":{"entries":{"update":{"width":{"value":140}}},
"symbols":{"update":{
"shape":{"signal":"datum.value === 'Exp.' ? 'square' : 'stroke'"},
"size":{"signal":"datum.value === 'Exp.' ? 110 : 2704"},
"strokeDash":{"signal":"datum.value === 'ENDF/B-VII.0' ? [7,4] : [1,0]"},
"strokeWidth":{"signal":"datum.value === 'ENDF/B-VII.0' ? 3 : 1.2"},
"fill":{"signal":"datum.value === 'Exp.' ? '#0000ff' : 'transparent'"},
"stroke":{"signal":"datum.value === 'Exp.' ? 'transparent' : (datum.value === 'This work' ? '#ff0000' : '#000000')"},
"opacity":{"value":1}}}}}}
}},
{"data":{"name":"endf"},"mark":{"type":"line","strokeWidth":3,"strokeDash":[7,4],"interpolate":"monotone"},
"encoding":{
"x":{"field":"x","type":"quantitative","axis":{"orient":"top","values":[5,10,15,20],"labels":false,"title":null}},
"y":{"field":"y","type":"quantitative","axis":{"orient":"right","values":[0,200,400,600],"labels":false,"title":null}},
"color":{"datum":"ENDF/B-VII.0"}}},
{"data":{"name":"exp"},"mark":{"type":"rule","color":"#0000ff","strokeWidth":1,"strokeDash":[2,2]},
"encoding":{"x":{"field":"x","type":"quantitative","axis":null},"y":{"field":"lo","type":"quantitative","axis":null},"y2":{"field":"hi"}}},
{"data":{"name":"exp"},"mark":{"type":"tick","orient":"horizontal","color":"#0000ff","size":10,"thickness":1,"opacity":0.8},
"encoding":{"x":{"field":"x","type":"quantitative","axis":null},"y":{"field":"lo","type":"quantitative","axis":null}}},
{"data":{"name":"exp"},"mark":{"type":"tick","orient":"horizontal","color":"#0000ff","size":10,"thickness":1,"opacity":0.8},
"encoding":{"x":{"field":"x","type":"quantitative","axis":null},"y":{"field":"hi","type":"quantitative","axis":null}}},
{"data":{"name":"exp"},"mark":{"type":"point","shape":"square","filled":true,"size":100,"opacity":1},
"encoding":{"x":{"field":"x","type":"quantitative","axis":null},"y":{"field":"y","type":"quantitative","axis":null},"color":{"datum":"Exp."}}},
{"data":{"values":[{}]},"mark":{"type":"text","text":"100 random","align":"left","baseline":"alphabetic","fontSize":51,"font":"Liberation Serif, serif","color":"black"},
"encoding":{"x":{"datum":4.67,"type":"quantitative","axis":null},"y":{"datum":542,"type":"quantitative","axis":null}}},
{"data":{"values":[{}]},"mark":{"type":"text","text":"241","align":"left","baseline":"alphabetic","fontSize":35,"font":"Liberation Serif, serif","color":"black"},
"encoding":{"x":{"datum":11.12,"type":"quantitative","axis":null},"y":{"datum":566,"type":"quantitative","axis":null}}},
{"data":{"values":[{}]},"mark":{"type":"text","text":"Am(n,2n)","align":"left","baseline":"alphabetic","fontSize":51,"font":"Liberation Serif, serif","color":"black"},
"encoding":{"x":{"datum":12.46,"type":"quantitative","axis":null},"y":{"datum":542,"type":"quantitative","axis":null}}}
]
}
